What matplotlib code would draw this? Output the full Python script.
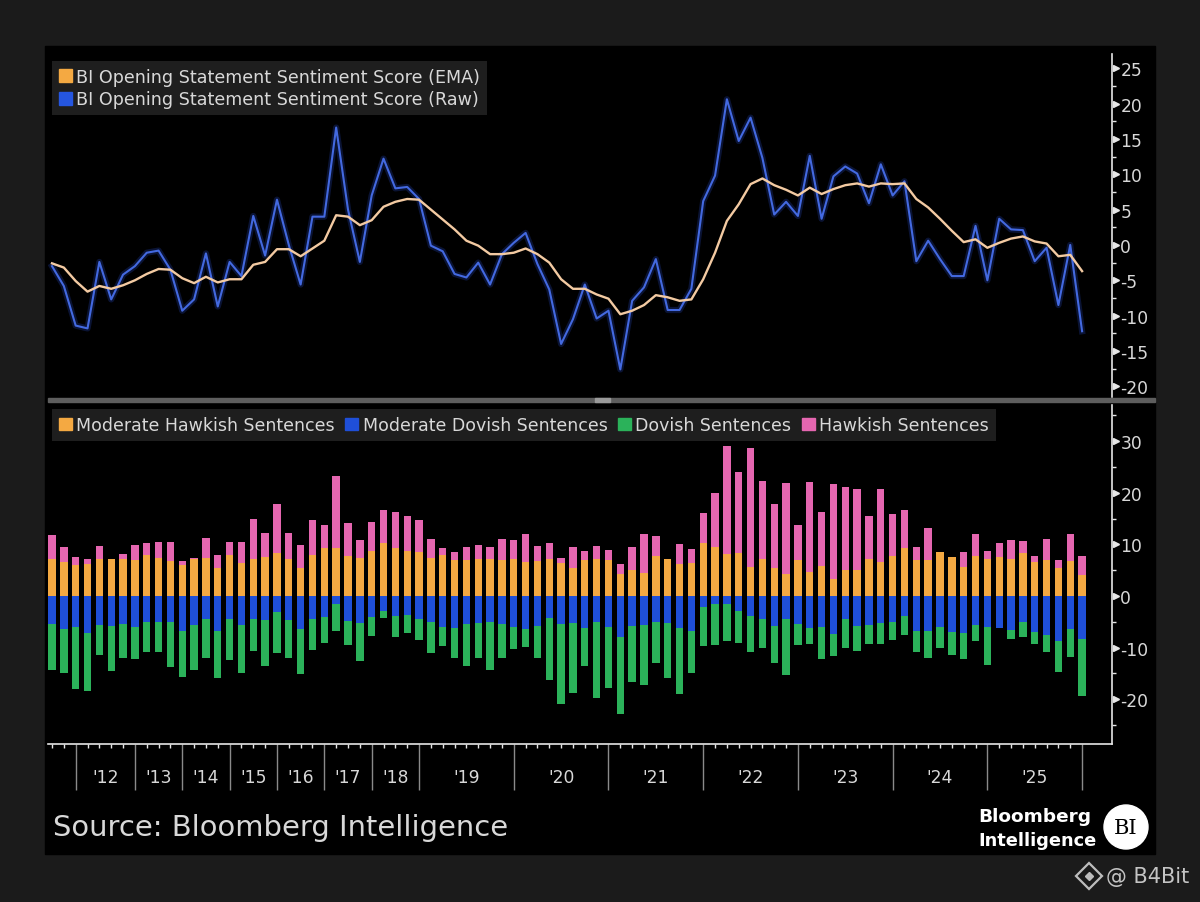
import numpy as np
import matplotlib
matplotlib.use('Agg')
import matplotlib.pyplot as plt
import matplotlib.transforms as mtransforms
from matplotlib.patches import Patch, Rectangle, Ellipse
from matplotlib.lines import Line2D
import matplotlib.ticker as ticker

# press conferences per calendar year, 2011 .. 2026
years = list(range(2011, 2027))
meetings_per_year = [2, 5, 4, 4, 4, 4, 4, 4, 8, 8, 8, 8, 8, 8, 8, 1]

# top panel: sentiment score
raw_score = [
    -3.0, -5.8, -11.4, -11.8, -2.4, -7.7, -4.2, -3.0, -1.1, -0.8,
    -3.5, -9.3, -7.7, -1.2, -8.7, -2.4, -4.4, 4.1, -1.5, 6.4,
    0.0, -5.6, 4.0, 4.0, 16.6, 5.0, -2.4, 7.0, 12.2, 8.0,
    8.2, 6.5, -0.1, -0.9, -4.1, -4.6, -2.5, -5.6, -1.3, 0.3,
    1.7, -2.7, -6.3, -14.0, -10.5, -5.6, -10.4, -9.3, -17.6, -7.9,
    -6.0, -2.0, -9.2, -9.2, -6.2, 6.2, 9.8, 20.6, 14.7, 18.0,
    12.3, 4.3, 6.1, 4.1, 12.6, 3.7, 9.7, 11.1, 10.1, 5.9,
    11.4, 7.0, 9.0, -2.3, 0.6, -2.0, -4.4, -4.4, 2.7, -5.0,
    3.7, 2.2, 2.1, -2.3, -0.4, -8.5, 0.0, -12.2,
]
ema_score = [
    -2.6, -3.2, -5.1, -6.6, -5.8, -6.2, -5.7, -5.0, -4.1, -3.4,
    -3.5, -4.7, -5.4, -4.5, -5.3, -4.85, -4.85, -2.8, -2.4, -0.6,
    -0.6, -1.6, -0.5, 0.6, 4.2, 4.0, 2.8, 3.5, 5.4, 6.1,
    6.5, 6.4, 5.0, 3.6, 2.2, 0.6, -0.1, -1.3, -1.3, -1.1,
    -0.5, -1.3, -2.5, -4.85, -6.2, -6.2, -7.0, -7.6, -9.8, -9.3,
    -8.5, -7.1, -7.4, -7.9, -7.7, -4.85, -1.1, 3.4, 5.75, 8.6,
    9.4, 8.45, 7.8, 7.0, 8.1, 7.2, 7.9, 8.45, 8.7, 8.25,
    8.7, 8.6, 8.7, 6.5, 5.3, 3.7, 2.0, 0.4, 0.8, -0.4,
    0.3, 0.9, 1.2, 0.5, 0.2, -1.6, -1.4, -3.7,
]

# bottom panel: sentence counts
moderate_hawkish = [
    7.2, 6.6, 5.9, 6.1, 7.2, 7.2, 7.2, 7.0, 7.9, 7.4,
    6.8, 5.9, 7.1, 7.3, 5.5, 7.9, 6.3, 7.1, 7.6, 8.3,
    7.1, 5.5, 7.9, 9.2, 9.2, 7.8, 7.4, 8.7, 10.3, 9.2,
    8.7, 8.5, 7.4, 7.9, 7.0, 7.0, 7.1, 7.2, 7.0, 7.1,
    6.5, 6.7, 7.1, 6.3, 5.5, 7.0, 7.2, 7.0, 4.3, 5.0,
    4.4, 7.8, 7.2, 6.1, 6.3, 10.3, 9.4, 8.1, 8.4, 5.6,
    7.1, 5.5, 4.2, 7.0, 4.7, 5.8, 3.2, 5.0, 5.0, 7.1,
    6.5, 7.8, 9.2, 7.0, 7.0, 8.6, 7.6, 5.7, 7.8, 7.1,
    7.6, 7.2, 8.3, 6.5, 7.0, 5.5, 6.8, 4.1,
]
hawkish = [
    4.7, 2.8, 1.7, 1.1, 2.5, 0.0, 1.0, 2.9, 2.3, 3.0,
    3.7, 0.8, 0.3, 3.9, 2.4, 2.6, 4.2, 7.9, 4.6, 9.5,
    5.0, 4.4, 6.8, 4.5, 14.1, 6.3, 3.4, 5.7, 6.3, 7.1,
    6.8, 6.3, 3.7, 1.4, 1.6, 2.4, 2.8, 2.3, 4.0, 3.7,
    5.5, 2.9, 3.2, 1.1, 3.9, 1.7, 2.5, 1.9, 1.9, 4.4,
    7.6, 3.9, 0.0, 4.0, 2.8, 5.8, 10.5, 21.0, 15.7, 23.0,
    15.2, 12.3, 17.6, 6.8, 17.4, 10.5, 18.4, 16.2, 15.8, 8.4,
    14.3, 8.1, 7.5, 2.4, 6.1, 0.0, 0.0, 2.8, 4.2, 1.6,
    2.7, 3.7, 2.3, 1.3, 4.0, 1.5, 5.2, 3.7,
]
moderate_dovish = [
    5.4, 6.5, 6.0, 7.1, 5.7, 5.8, 5.4, 6.0, 5.0, 5.0,
    5.0, 6.8, 5.7, 4.5, 6.8, 4.5, 5.7, 4.5, 4.7, 3.2,
    4.7, 6.5, 4.5, 4.1, 1.6, 4.8, 5.2, 4.1, 2.9, 3.9,
    3.7, 4.5, 5.0, 6.1, 6.3, 5.4, 5.2, 5.0, 5.4, 6.0,
    6.5, 5.8, 4.3, 5.4, 5.2, 6.3, 5.0, 6.0, 7.9, 5.8,
    5.6, 5.0, 5.2, 6.3, 6.8, 2.1, 1.6, 1.5, 3.0, 3.9,
    4.5, 5.8, 4.5, 5.5, 6.3, 6.1, 7.4, 4.5, 5.9, 5.7,
    5.3, 5.0, 3.9, 6.8, 6.8, 6.1, 7.0, 7.1, 5.6, 6.1,
    6.3, 6.6, 5.0, 7.0, 7.6, 8.7, 6.5, 8.4,
]
dovish = [
    9.0, 8.4, 12.1, 11.3, 5.7, 8.7, 6.7, 6.3, 5.8, 5.9,
    8.7, 8.9, 8.7, 7.6, 9.2, 7.9, 9.2, 6.1, 8.9, 7.8,
    7.4, 8.7, 5.9, 5.1, 5.2, 4.8, 7.4, 3.7, 1.4, 4.1,
    3.5, 4.0, 6.0, 3.7, 5.8, 8.2, 6.9, 9.4, 6.7, 4.2,
    3.4, 6.3, 12.0, 15.5, 13.7, 7.3, 14.7, 11.8, 15.0, 10.8,
    11.6, 8.0, 10.7, 12.7, 8.1, 7.6, 7.9, 7.2, 6.2, 6.9,
    5.5, 7.2, 10.8, 4.1, 3.0, 6.1, 4.3, 5.5, 4.8, 3.7,
    4.1, 3.6, 3.7, 4.0, 5.3, 3.9, 4.5, 5.2, 3.2, 7.2,
    0.0, 1.8, 2.9, 2.4, 3.2, 6.1, 5.4, 11.0,
]

bg_outer = '#1b1b1b'
txt = '#d8d8d8'
c_mh = '#f4a942'
c_h = '#e566b0'
c_md = '#1f4fd8'
c_d = '#2bb25a'
c_raw = '#4369e0'
c_ema = '#f3caa2'

plt.rcParams['font.family'] = ['DejaVu Sans']

W, H = 1200, 903
fig = plt.figure(figsize=(W / 100, H / 100), dpi=100, facecolor=bg_outer)


def fx(px):
    return px / W


def fy(py):
    return 1 - py / H


# black chart card, behind everything
fig.patches.append(Rectangle((fx(45), fy(855)), fx(1110), 808 / H,
                             transform=fig.transFigure, color='black', zorder=-10))

x = np.arange(len(raw_score))
left, right = 48, 1112
ax1 = fig.add_axes([fx(left), fy(398), fx(right - left), (398 - 55) / H])
ax2 = fig.add_axes([fx(left), fy(745), fx(right - left), (745 - 406) / H])

x_lo = -4 / 11.84
x_hi = (right - 52) / 11.84
for ax in (ax1, ax2):
    ax.set_facecolor('none')
    ax.set_xlim(x_lo, x_hi)
    for side in ('left', 'top', 'bottom'):
        ax.spines[side].set_visible(False)
    ax.spines['right'].set_color('#e6e6e6')
    ax.spines['right'].set_linewidth(1.2)
    ax.yaxis.tick_right()
    ax.tick_params(axis='y', which='major', length=0, pad=6, labelsize=12.3, labelcolor=txt)
    ax.tick_params(axis='y', which='minor', length=3, width=1, color='#e6e6e6', direction='out')

# top panel lines
ax1.plot(x, raw_score, color='#2a4fd0', lw=4.5, alpha=0.25, solid_joinstyle='round')
ax1.plot(x, raw_score, color=c_raw, lw=1.5, solid_joinstyle='round')
ax1.plot(x, ema_score, color=c_ema, lw=1.7, solid_joinstyle='round')
ax1.set_ylim(-21.5, 27)
ax1.yaxis.set_major_locator(ticker.MultipleLocator(5))
ax1.yaxis.set_minor_locator(ticker.MultipleLocator(2.5))
ax1.set_xticks([])
ax1.yaxis.set_major_formatter(ticker.FuncFormatter(lambda v, p: f'{v:.0f}'))

# bottom panel stacked bars
bw = 0.62
ax2.bar(x, moderate_hawkish, width=bw, color=c_mh, linewidth=0)
ax2.bar(x, hawkish, width=bw, bottom=moderate_hawkish, color=c_h, linewidth=0)
ax2.bar(x, -np.array(moderate_dovish), width=bw, color=c_md, linewidth=0)
ax2.bar(x, -np.array(dovish), width=bw, bottom=-np.array(moderate_dovish), color=c_d, linewidth=0)
ax2.set_ylim(-28.7, 37)
ax2.yaxis.set_major_locator(ticker.MultipleLocator(10))
ax2.yaxis.set_minor_locator(ticker.MultipleLocator(5))
ax2.yaxis.set_major_formatter(ticker.FuncFormatter(lambda v, p: f'{v:.0f}'))

# little arrow heads on the major ticks
for ax, step, lo, hi in ((ax1, 5, -20, 25), (ax2, 10, -20, 30)):
    trans = mtransforms.blended_transform_factory(ax.transAxes, ax.transData)
    ticks_y = np.arange(lo, hi + 1, step)
    ax.plot(np.full(len(ticks_y), 1 + 3.5 / (right - left)), ticks_y, linestyle='none',
            marker='>', markersize=4.5, color='#e6e6e6', transform=trans, clip_on=False)

# x axis with meeting ticks and year blocks
ax2.spines['bottom'].set_visible(True)
ax2.spines['bottom'].set_color('#e6e6e6')
ax2.spines['bottom'].set_linewidth(1.2)
starts = np.cumsum([0] + meetings_per_year[:-1])
year_idx = starts[1:]
ax2.set_xticks(year_idx)
ax2.set_xticklabels([])
ax2.set_xticks(x, minor=True)
ax2.tick_params(axis='x', which='minor', length=3, width=1, color='#e6e6e6', direction='out')
ax2.tick_params(axis='x', which='major', length=33, width=1, color='#8a8a8a', direction='out')
xtrans = mtransforms.blended_transform_factory(ax2.transData, ax2.transAxes)
for yr, a, b in zip(years[1:-1], year_idx[:-1], year_idx[1:]):
    ax2.text((a + b) / 2, -33 / 339, f"'{yr % 100:02d}", transform=xtrans, ha='center', va='center',
             fontsize=12.3, color=txt)

# legends
leg1 = ax1.legend(handles=[Patch(color=c_mh, label='BI Opening Statement Sentiment Score (EMA)'),
                           Patch(color='#2556e0', label='BI Opening Statement Sentiment Score (Raw)')],
                  loc='upper left', bbox_to_anchor=(4 / 1064, 1 - 7 / 343), borderaxespad=0,
                  fontsize=12.6, frameon=True, fancybox=False, handlelength=0.75, handleheight=0.75,
                  handletextpad=0.25, labelspacing=0.25, borderpad=0.4, labelcolor=txt)
leg1.get_frame().set_facecolor('#1e1e1e')
leg1.get_frame().set_edgecolor('none')
leg1.get_frame().set_alpha(1)

leg2 = ax2.legend(handles=[Patch(color=c_mh, label='Moderate Hawkish Sentences'),
                           Patch(color=c_md, label='Moderate Dovish Sentences'),
                           Patch(color=c_d, label='Dovish Sentences'),
                           Patch(color=c_h, label='Hawkish Sentences')],
                  loc='upper left', bbox_to_anchor=(4 / 1064, 1 - 4 / 339), borderaxespad=0, ncol=4,
                  fontsize=12.5, frameon=True, fancybox=False, handlelength=0.75, handleheight=0.75,
                  handletextpad=0.25, columnspacing=0.6, borderpad=0.4, labelcolor=txt)
leg2.get_frame().set_facecolor('#1e1e1e')
leg2.get_frame().set_edgecolor('none')
leg2.get_frame().set_alpha(1)

# divider between panels
fig.patches.append(Rectangle((fx(48), fy(403)), fx(1155 - 48), 4 / H,
                             transform=fig.transFigure, color='#5e5e5e', zorder=3))
fig.patches.append(Rectangle((fx(595), fy(403)), fx(15), 4 / H,
                             transform=fig.transFigure, color='#9a9a9a', zorder=4))

# footer
fig.text(fx(53), fy(828), 'Source: Bloomberg Intelligence', fontsize=20.9, color=txt,
         ha='left', va='center')
fig.text(fx(978), fy(817), 'Bloomberg', fontsize=13.3, fontweight='bold', color='white',
         ha='left', va='center')
fig.text(fx(978), fy(841), 'Intelligence', fontsize=12.8, fontweight='bold', color='white',
         ha='left', va='center')
fig.patches.append(Ellipse((fx(1126), fy(828)), fx(44), 44 / H, transform=fig.transFigure,
                           color='white', zorder=2))
fig.text(fx(1126), fy(829), 'BI', fontsize=15, family='DejaVu Serif', color='black',
         ha='center', va='center', zorder=3)

# watermark
fig.add_artist(Line2D([fx(1089)], [fy(877)], marker='D', markersize=13, markerfacecolor='none',
                      markeredgecolor='#bdbdbd', markeredgewidth=1.6, transform=fig.transFigure))
fig.add_artist(Line2D([fx(1089)], [fy(877)], marker='D', markersize=4, color='#bdbdbd',
                      transform=fig.transFigure))
fig.text(fx(1106), fy(877), '@ B4Bit', fontsize=15, color='#c4c4c4', ha='left', va='center')

fig.savefig('out.png', dpi=100, facecolor=bg_outer)
